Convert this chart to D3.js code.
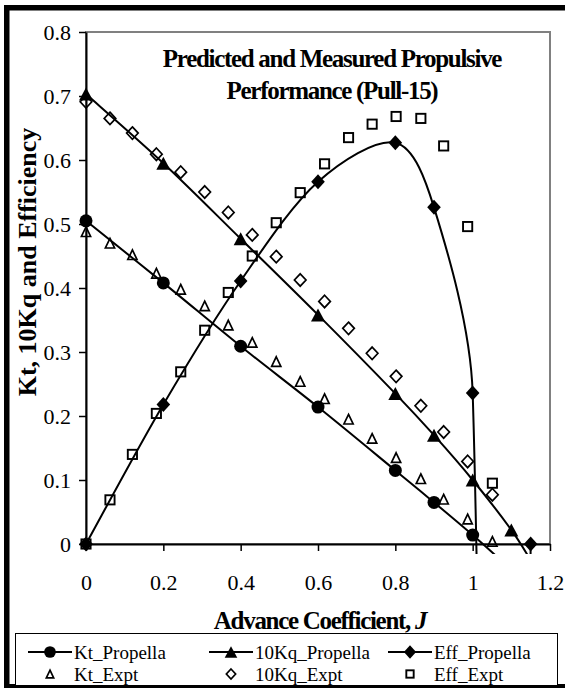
<!DOCTYPE html>
<html><head><meta charset="utf-8">
<script src="https://cdn.jsdelivr.net/npm/d3@7/dist/d3.min.js"></script>
<style>body{margin:0;background:#fff}svg{display:block}</style>
</head><body>
<script>
// ---- data ----
const jPred      = [0, 0.2, 0.4, 0.6, 0.8, 0.9, 1.0, 1.1, 1.15];
const ktPred     = [0.505, 0.408, 0.309, 0.214, 0.115, 0.065, 0.014, -0.04, null];
const kq10Pred   = [0.703, 0.595, 0.477, 0.358, 0.235, 0.170, 0.100, 0.022, -0.025];
const effPred    = [0, 0.218, 0.411, 0.566, 0.627, 0.526, 0.236, -3.2, 0];

const jExpt      = [0, 0.062, 0.12, 0.182, 0.245, 0.307, 0.368, 0.43, 0.492, 0.554, 0.617, 0.679, 0.74, 0.802, 0.866, 0.925, 0.987, 1.051];
const ktExpt     = [0.488, 0.470, 0.452, 0.423, 0.398, 0.372, 0.342, 0.315, 0.285, 0.254, 0.227, 0.195, 0.165, 0.135, 0.102, 0.070, 0.039, 0.004];
const kq10Expt   = [0.691, 0.665, 0.642, 0.609, 0.581, 0.550, 0.518, 0.483, 0.449, 0.4125, 0.379, 0.337, 0.298, 0.262, 0.216, 0.175, 0.129, 0.077];
const effExpt    = [0, 0.069, 0.140, 0.204, 0.269, 0.334, 0.393, 0.450, 0.502, 0.549, 0.594, 0.635, 0.656, 0.668, 0.665, 0.622, 0.496, 0.095];

const xTicks = [0, 0.2, 0.4, 0.6, 0.8, 1.0, 1.2];
const xTickLabels = ["0", "0.2", "0.4", "0.6", "0.8", "1", "1.2"];
const yTicks = [0, 0.1, 0.2, 0.3, 0.4, 0.5, 0.6, 0.7, 0.8];
const yTickLabels = ["0", "0.1", "0.2", "0.3", "0.4", "0.5", "0.6", "0.7", "0.8"];

const titleLines = ["Predicted and Measured Propulsive", "Performance (Pull-15)"];
const yTitle = "Kt, 10Kq and Efficiency";
const xTitle = "Advance Coefficient, ";
const xTitleItalic = "J";
const seriesNames = ["Kt_Propella", "10Kq_Propella", "Eff_Propella", "Kt_Expt", "10Kq_Expt", "Eff_Expt"];

// ---- setup ----
const W = 565, H = 688;
const FONT = "'Liberation Serif','Times New Roman',serif";
const svg = d3.select("body").append("svg").attr("width", W).attr("height", H)
  .style("font-family", FONT);

const x = d3.scaleLinear().domain([0, 1.2]).range([86, 550]);
const y = d3.scaleLinear().domain([0, 0.8]).range([544, 32]);

// outer frame
svg.append("rect").attr("x", 6.75).attr("y", 7.75).attr("width", 600).attr("height", 679)
  .attr("fill", "none").attr("stroke", "#000").attr("stroke-width", 5.5);

// plot area border (gray)
svg.append("rect").attr("x", x(0)).attr("y", y(0.8)).attr("width", x(1.2) - x(0)).attr("height", y(0) - y(0.8))
  .attr("fill", "none").attr("stroke", "#808080").attr("stroke-width", 2);

// axes
const yAxis = d3.axisLeft(y).tickValues(yTicks).tickFormat((d, i) => yTickLabels[i])
  .tickSize(7).tickSizeOuter(0).tickPadding(8);
const xAxis = d3.axisBottom(x).tickValues(xTicks).tickFormat((d, i) => xTickLabels[i])
  .tickSize(7).tickSizeOuter(0).tickPadding(23);

const gy = svg.append("g").attr("transform", `translate(${x(0)},0)`).call(yAxis);
const gx = svg.append("g").attr("transform", `translate(0,${y(0)})`).call(xAxis);
[gx, gy].forEach(g => {
  g.select(".domain").attr("stroke", "#000").attr("stroke-width", 2);
  g.selectAll(".tick line").attr("stroke", "#000").attr("stroke-width", 1.5);
  g.selectAll(".tick text").attr("fill", "#000").style("font-family", FONT).style("font-size", "22px");
});

// ---- smoothed line (Excel-like) ----
function smoothPath(pts) {
  const n = pts.length;
  if (n < 2) return "";
  let d = `M${pts[0][0]},${pts[0][1]}`;
  for (let i = 0; i < n - 1; i++) {
    const p0 = pts[Math.max(i - 1, 0)], p1 = pts[i], p2 = pts[i + 1], p3 = pts[Math.min(i + 2, n - 1)];
    const seg = Math.hypot(p2[0] - p1[0], p2[1] - p1[1]);
    const lim = seg * 0.35;
    let t1 = [(p2[0] - p0[0]) / 6, (p2[1] - p0[1]) / 6];
    let t2 = [(p3[0] - p1[0]) / 6, (p3[1] - p1[1]) / 6];
    const l1 = Math.hypot(t1[0], t1[1]), l2 = Math.hypot(t2[0], t2[1]);
    if (l1 > lim) t1 = t1.map(v => v * lim / l1);
    if (l2 > lim) t2 = t2.map(v => v * lim / l2);
    d += `C${p1[0] + t1[0]},${p1[1] + t1[1]} ${p2[0] - t2[0]},${p2[1] - t2[1]} ${p2[0]},${p2[1]}`;
  }
  return d;
}

svg.append("clipPath").attr("id", "clipLines").append("rect")
  .attr("x", 80).attr("y", 20).attr("width", 476).attr("height", 534);

const gLines = svg.append("g").attr("clip-path", "url(#clipLines)");
[ktPred, kq10Pred, effPred].forEach(vals => {
  const pts = jPred.map((j, i) => [j, vals[i]]).filter(p => p[1] !== null).map(p => [x(p[0]), y(p[1])]);
  gLines.append("path").attr("d", smoothPath(pts)).attr("fill", "none")
    .attr("stroke", "#000").attr("stroke-width", 2);
});

// ---- markers ----
function marker(g, type, cx, cy, s) {
  s = s || 1;
  if (type === "circle") {
    g.append("circle").attr("cx", cx).attr("cy", cy).attr("r", 6.5 * s).attr("fill", "#000");
  } else if (type === "triFill") {
    const w = 7 * s, h = 6.5 * s;
    g.append("path").attr("d", `M${cx},${cy - h}L${cx + w},${cy + h}L${cx - w},${cy + h}Z`).attr("fill", "#000");
  } else if (type === "diaFill") {
    const w = 6.8 * s, h = 7.5 * s;
    g.append("path").attr("d", `M${cx},${cy - h}L${cx + w},${cy}L${cx},${cy + h}L${cx - w},${cy}Z`).attr("fill", "#000");
  } else if (type === "triOpen") {
    const w = 4.6 * s, h = 4.8 * s;
    g.append("path").attr("d", `M${cx},${cy - h}L${cx + w},${cy + h}L${cx - w},${cy + h}Z`)
      .attr("fill", "none").attr("stroke", "#000").attr("stroke-width", 1.7).attr("stroke-linejoin", "miter");
  } else if (type === "diaOpen") {
    const w = 5.8 * s, h = 6.2 * s;
    g.append("path").attr("d", `M${cx},${cy - h}L${cx + w},${cy}L${cx},${cy + h}L${cx - w},${cy}Z`)
      .attr("fill", "none").attr("stroke", "#000").attr("stroke-width", 1.7);
  } else if (type === "sqOpen") {
    const a = 4.6 * s;
    g.append("rect").attr("x", cx - a).attr("y", cy - a).attr("width", 2 * a).attr("height", 2 * a)
      .attr("fill", "none").attr("stroke", "#000").attr("stroke-width", 1.9);
  }
}

const gM = svg.append("g");
const predSets = [[ktPred, "circle"], [kq10Pred, "triFill"], [effPred, "diaFill"]];
predSets.forEach(([vals, t]) => {
  jPred.forEach((j, i) => {
    const v = vals[i];
    if (v !== null && v >= 0) marker(gM, t, x(j), y(v));
  });
});
const exptSets = [[ktExpt, "triOpen"], [kq10Expt, "diaOpen"], [effExpt, "sqOpen"]];
exptSets.forEach(([vals, t]) => {
  jExpt.forEach((j, i) => marker(gM, t, x(j), y(vals[i])));
});

// ---- titles ----
const tg = svg.append("g").attr("font-weight", "bold").style("font-size", "25px").style("letter-spacing", "-1.3px");
tg.append("text").attr("x", 332).attr("y", 67).attr("text-anchor", "middle").text(titleLines[0]);
tg.append("text").attr("x", 332).attr("y", 98.5).attr("text-anchor", "middle").text(titleLines[1]);

svg.append("text").attr("transform", "translate(35.5,262) rotate(-90)").attr("text-anchor", "middle")
  .attr("font-weight", "bold").style("font-size", "26px").text(yTitle);

const xt = svg.append("text").attr("x", 320).attr("y", 629).attr("text-anchor", "middle")
  .attr("font-weight", "bold").style("font-size", "25px").style("letter-spacing", "-1.3px");
xt.append("tspan").text(xTitle);
xt.append("tspan").attr("font-style", "italic").text(xTitleItalic);

// ---- legend ----
svg.append("rect").attr("x", 15.5).attr("y", 633.5).attr("width", 542).attr("height", 52)
  .attr("fill", "#fff").attr("stroke", "#000").attr("stroke-width", 1);
const legCols = [28, 209, 388];
const legRows = [652, 674];
const legTypes = ["circle", "triFill", "diaFill", "triOpen", "diaOpen", "sqOpen"];
seriesNames.forEach((name, i) => {
  const c = legCols[i % 3], r = legRows[Math.floor(i / 3)];
  const g = svg.append("g");
  if (i < 3) {
    g.append("line").attr("x1", c).attr("x2", c + 44).attr("y1", r).attr("y2", r)
      .attr("stroke", "#000").attr("stroke-width", 2);
  }
  marker(g, legTypes[i], c + 22, r, i < 3 ? 0.9 : 0.8);
  g.append("text").attr("x", c + 46).attr("y", r + 6.5).style("font-size", "19px").text(name);
});
</script>
</body></html>
